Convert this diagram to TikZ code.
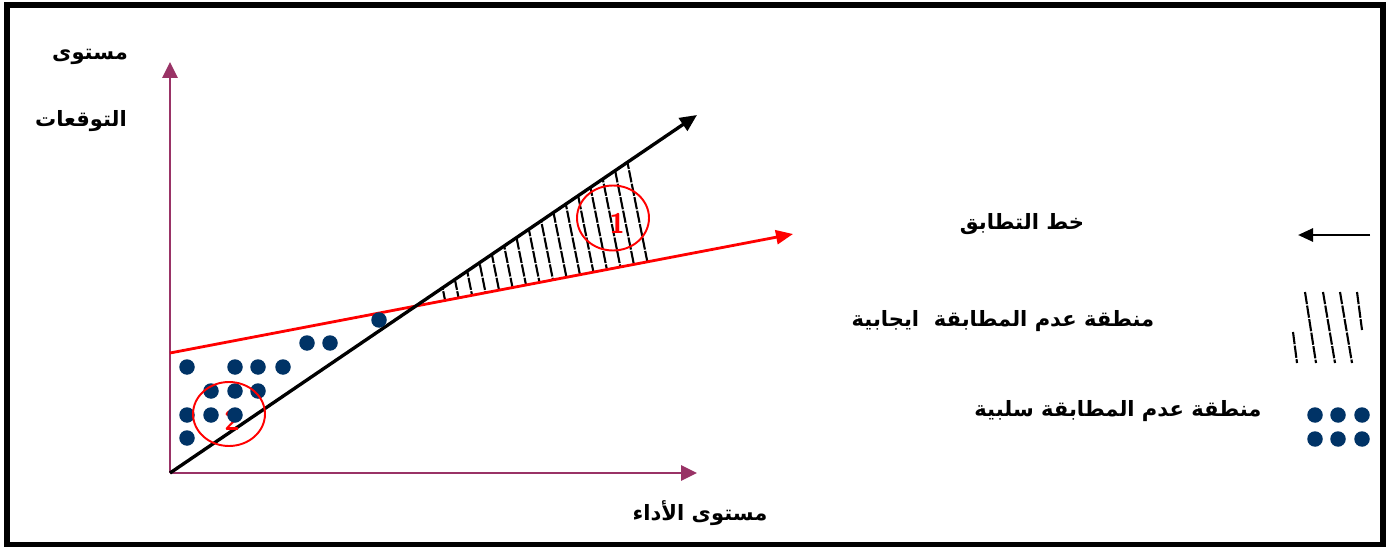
\documentclass[tikz,border=0pt]{standalone}
\usepackage{fontspec}
\usetikzlibrary{arrows.meta}
\TeXXeTstate=1
\newfontfamily\arabicfont[Script=Arabic]{DejaVu Sans}
\definecolor{axisplum}{HTML}{993366}
\definecolor{dotnavy}{HTML}{003366}
\tikzset{
  axis/.style={axisplum, line width=1.5pt, -{Triangle[length=0.32cm,width=0.3cm]}},
  fitline/.style={black, line width=1.9pt, -{Triangle[length=0.34cm,width=0.3cm]}},
  expline/.style={red, line width=1.6pt, -{Triangle[length=0.34cm,width=0.28cm]}},
  keyarrow/.style={black, line width=1.5pt, -{Triangle[length=0.3cm,width=0.26cm]}},
  gapdot/.style={circle, fill=dotnavy, inner sep=0pt, minimum size=0.31cm},
  zone/.style={ellipse, draw=red, line width=1.1pt, inner sep=0pt},
  hatch/.style={black, line width=1.2pt, dash pattern=on 7pt off 0.8pt},
  zonenum/.style={text=red, font=\sffamily\bfseries\fontsize{16}{18}\selectfont, inner sep=0pt},
  lbl/.style={font=\arabicfont\bfseries\fontsize{12}{14}\selectfont, inner sep=0pt}
}
\usetikzlibrary{shapes.geometric}

\begin{document}
\begin{tikzpicture}[x=0.02cm,y=-0.02cm]
\useasboundingbox (0,0) rectangle (1388,547);
\fill[white] (0,0) rectangle (1388,547);
\draw[line width=3.4pt] (7,5) rectangle (1383,545);

\coordinate (O) at (170,473);
\coordinate (ytip) at (170,62);
\coordinate (xtip) at (697,473);
\coordinate (btip) at (697,115);
\coordinate (rbeg) at (170,353);
\coordinate (rtip) at (793,234);
\coordinate (cross) at (intersection of O--btip and rbeg--rtip);
\coordinate (htop) at (635,157);
\coordinate (hbot) at (655,261);

\begin{scope}
\clip (cross) -- (htop) -- (hbot) -- cycle;
\foreach \t in {0,...,15}
  \draw[hatch] ({411+14*\t},130) -- ++(36,180);
\end{scope}

\draw[axis] (O) -- (ytip);
\draw[axis] (O) -- (xtip);
\draw[expline] (rbeg) -- (rtip);
\draw[fitline] (O) -- (btip);

\foreach \px/\py [count=\i] in {307/343,330/343,187/367,235/367,258/367,283/367,
  211/391,235/391,258/391,187/415,211/415,187/438,379/320}
  \node[gapdot] (d\i) at (\px,\py) {};

\node[zone, minimum width=1.44cm, minimum height=1.3cm] (z1) at (613,218) {};
\node[zonenum] (n1) at (617,223) {1};
\node[zone, minimum width=1.44cm, minimum height=1.28cm] (z2) at (229,414) {};
\node[zonenum] (n2) at (232,420) {2};
\node[gapdot] (d14) at (235,415) {};

\node[lbl] (ylab1) at (90,57) {\beginR مستوى\endR};
\node[lbl] (ylab2) at (81,121) {\beginR التوقعات\endR};
\node[lbl] (xlab) at (700,513) {\beginR مستوى الأداء\endR};

\coordinate (kstart) at (1370,235);
\coordinate (kend) at (1298,235);
\draw[keyarrow] (kstart) -- (kend);
\node[lbl] (kline) at (1022,224) {\beginR خط التطابق\endR};

\draw[hatch] (1293,332) -- (1297,363);
\draw[hatch] (1305,292) -- (1316,363);
\draw[hatch] (1323,292) -- (1335,363);
\draw[hatch] (1340,292) -- (1352,363);
\draw[hatch] (1357,292) -- (1362,330);
\node[lbl] (kpos) at (1003,321) {\beginR منطقة عدم المطابقة\ \ ايجابية\endR};

\foreach \px in {1315,1338,1362}
  \foreach \py in {415,439}
    \node[gapdot] at (\px,\py) {};
\node[lbl] (kneg) at (1118,411) {\beginR منطقة عدم المطابقة سلبية\endR};
\end{tikzpicture}
\end{document}
